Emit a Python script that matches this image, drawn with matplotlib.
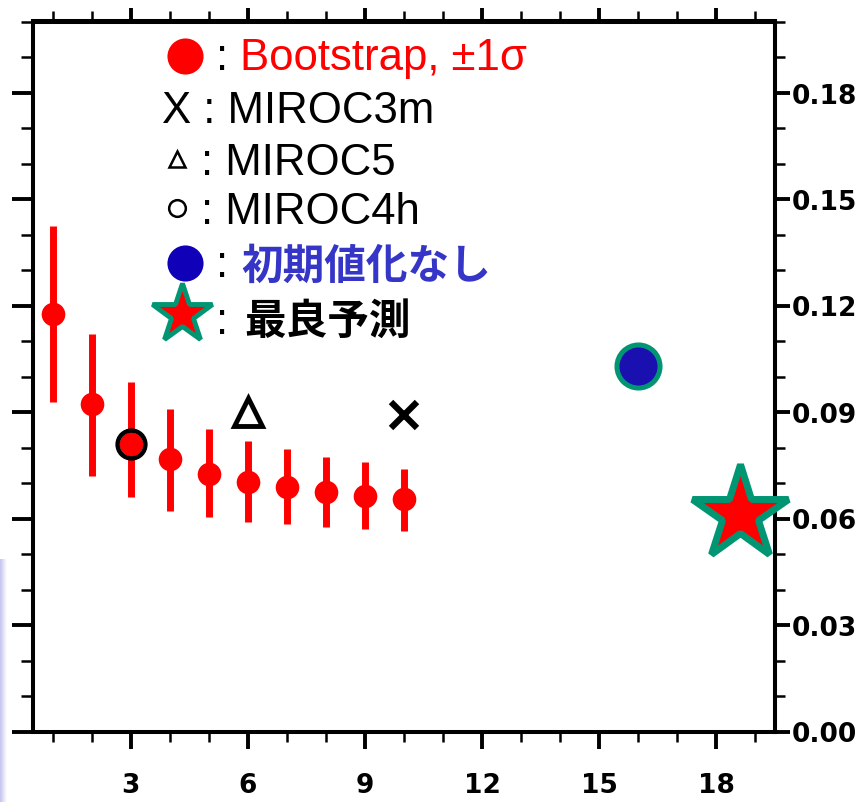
import numpy as np
import matplotlib
matplotlib.use('Agg')
import matplotlib.pyplot as plt
from matplotlib.lines import Line2D
from matplotlib.ticker import MultipleLocator, FixedLocator, NullFormatter

W, H, DPI = 860, 803, 100

# ---- data ----
lead = [1, 2, 3, 4, 5, 6, 7, 8, 9, 10]
boot_mean = [0.1176, 0.0923, 0.0810, 0.0768, 0.0725, 0.0703, 0.0689, 0.0675, 0.0663, 0.0655]
boot_hi = [0.1424, 0.1120, 0.0985, 0.0908, 0.0852, 0.0818, 0.0796, 0.0773, 0.0759, 0.0739]
boot_lo = [0.0928, 0.0720, 0.0661, 0.0621, 0.0604, 0.0590, 0.0585, 0.0576, 0.0570, 0.0565]
miroc3m_x, miroc3m_y = [10], [0.0892]
miroc5_x, miroc5_y = [6], [0.0900]
miroc4h_x, miroc4h_y = [3], [0.0810]
noinit_x, noinit_y = [16], [0.1030]
best_x, best_y = [18.6], [0.0613]
xticks = [3, 6, 9, 12, 15, 18]
xtick_labels = ['3', '6', '9', '12', '15', '18']
yticks = [0.00, 0.03, 0.06, 0.09, 0.12, 0.15, 0.18]
ytick_labels = ['0.00', '0.03', '0.06', '0.09', '0.12', '0.15', '0.18']

RED = '#ff0000'
BLUE = '#1a10b0'
GREEN = '#009673'
BLUE_TXT = '#3535c8'

fig = plt.figure(figsize=(W / DPI, H / DPI), dpi=DPI)
fig.patch.set_facecolor('white')

# faint lavender strip at the left edge
strip = fig.add_axes([0, 0, 7 / W, (H - 560) / H])
grad = np.linspace(0, 1, 20)[None, :]
strip.imshow(grad, aspect='auto', cmap=matplotlib.colors.LinearSegmentedColormap.from_list(
    'lv', ['#c4c4f0', '#ffffff']), extent=[0, 1, 0, 1])
strip.axis('off')

ax = fig.add_axes([33 / W, 1 - 732.5 / H, (775 - 33) / W, (732.5 - 22.5) / H])
ax.set_xlim(0.5, 19.5)
ax.set_ylim(0, 0.2)

for s in ax.spines.values():
    s.set_linewidth(2.9)

ax.xaxis.set_major_locator(FixedLocator(xticks))
ax.set_xticklabels(xtick_labels)
ax.xaxis.set_minor_locator(MultipleLocator(1))
ax.yaxis.set_major_locator(FixedLocator(yticks))
ax.yaxis.set_minor_locator(MultipleLocator(0.01))
ax.yaxis.set_major_formatter(NullFormatter())

ax.tick_params(which='both', direction='out', top=False, bottom=True, left=True, right=False,
               labelleft=False, labelbottom=True)
ax.tick_params(axis='x', which='major', length=12.5, width=2.8, pad=17)
ax.tick_params(axis='x', which='minor', length=7.5, width=1.8)
ax.tick_params(axis='y', which='major', length=15, width=2.8)
ax.tick_params(axis='y', which='minor', length=8.5, width=1.8)
for lab in ax.get_xticklabels():
    lab.set_fontfamily('DejaVu Sans')
    lab.set_fontweight('bold')
    lab.set_fontsize(19)

# right axis with labels
sy = ax.secondary_yaxis('right')
sy.yaxis.set_major_locator(FixedLocator(yticks))
sy.set_yticklabels(ytick_labels)
sy.yaxis.set_minor_locator(MultipleLocator(0.01))
sy.spines['right'].set_linewidth(2.9)
sy.tick_params(axis='y', which='major', direction='out', length=11, width=2.8, pad=1)
sy.tick_params(axis='y', which='minor', direction='out', length=7.5, width=1.8)
for lab in sy.get_yticklabels():
    lab.set_fontfamily('DejaVu Sans')
    lab.set_fontweight('bold')
    lab.set_fontsize(19)

# top axis ticks only
sx = ax.secondary_xaxis('top')
sx.xaxis.set_major_locator(FixedLocator(xticks))
sx.xaxis.set_minor_locator(MultipleLocator(1))
sx.xaxis.set_major_formatter(NullFormatter())
sx.spines['top'].set_linewidth(2.9)
sx.tick_params(axis='x', which='major', direction='out', length=9.5, width=2.8)
sx.tick_params(axis='x', which='minor', direction='out', length=7, width=1.8)

# bootstrap points with ±1σ bars
ax.vlines(lead, boot_lo, boot_hi, color=RED, lw=5, zorder=3)
ax.plot(lead, boot_mean, 'o', color=RED, ms=17, mec='none', zorder=4)

# models
ax.plot(miroc4h_x, miroc4h_y, 'o', ms=20, mfc='none', mec='black', mew=3.2, zorder=5)
ax.plot(miroc5_x, miroc5_y, '^', ms=20, mfc='none', mec='black', mew=3.5, zorder=5)
ax.plot(miroc3m_x, miroc3m_y, 'x', ms=19, color='black', mew=4.5, zorder=5)
ax.plot(noinit_x, noinit_y, 'o', ms=31, mfc=BLUE, mec=GREEN, mew=3.6, zorder=5)
ax.plot(best_x, best_y, '*', ms=72, mfc=RED, mec=GREEN, mew=5, zorder=10, clip_on=False)

# ---- legend drawn in figure pixels ----
def fx(x):
    return x / W

def fy(y):
    return 1 - y / H

def mark(x, y, **kw):
    fig.add_artist(Line2D([fx(x)], [fy(y)], linestyle='none', transform=fig.transFigure, **kw))

LAT = 'Liberation Sans'
CJK = ['Noto Sans CJK JP', 'DejaVu Sans']
FS = 31.5

mark(185, 57, marker='o', ms=26, color=RED, mec='none')
fig.text(fx(216), fy(70), ':', fontsize=FS, family=LAT, va='baseline', color='black')
fig.text(fx(240), fy(70), 'Bootstrap, ±1σ', fontsize=FS, family=LAT, va='baseline', color=RED)

fig.text(fx(162), fy(123), 'X : MIROC3m', fontsize=FS, family=LAT, va='baseline', color='black')

mark(177, 160, marker='^', ms=12, mfc='none', mec='black', mew=1.8)
fig.text(fx(201), fy(175), ': MIROC5', fontsize=FS, family=LAT, va='baseline', color='black')

mark(177, 209, marker='o', ms=12, mfc='none', mec='black', mew=1.8)
fig.text(fx(201), fy(224), ': MIROC4h', fontsize=FS, family=LAT, va='baseline', color='black')

mark(185, 264, marker='o', ms=26, color='#1000b8', mec='none')
fig.text(fx(216), fy(277), ':', fontsize=FS, family=LAT, va='baseline', color='black')
fig.text(fx(241), fy(267), '初期値化なし', fontsize=30, family=CJK, weight='bold',
         va='center', color=BLUE_TXT)

mark(182, 315, marker='*', ms=45, mfc=RED, mec=GREEN, mew=3.5)
fig.text(fx(216), fy(334), ':', fontsize=FS, family=LAT, va='baseline', color='black')
fig.text(fx(244), fy(322), '最良予測', fontsize=30, family=CJK, weight='bold',
         va='center', color='black')

fig.savefig('out.png', dpi=DPI, facecolor='white')
